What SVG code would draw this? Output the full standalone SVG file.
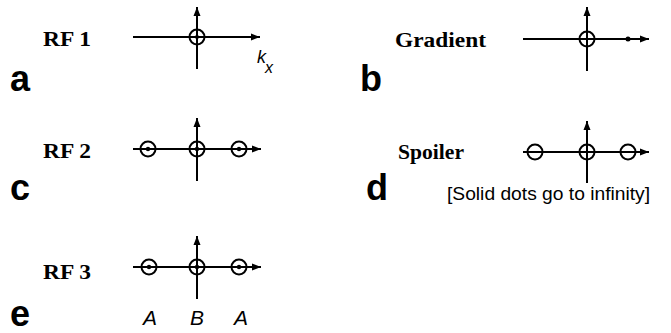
<svg xmlns="http://www.w3.org/2000/svg" width="671" height="333" viewBox="0 0 671 333">
<defs>
<marker id="ah" markerUnits="userSpaceOnUse" markerWidth="10" markerHeight="8" refX="9" refY="4" orient="auto">
<path d="M0,0.5 L9,4 L0,7.5 Z" fill="#000"/>
</marker>
<style>
.ax{stroke:#000;stroke-width:2;fill:none}
.ring{stroke:#000;stroke-width:2;fill:none}
.dot{fill:#000}
.lbl{font-family:"Liberation Serif","Times New Roman",serif;font-weight:bold;font-size:22px;fill:#000}
.pl{font-family:"Liberation Sans",Arial,sans-serif;font-weight:bold;font-size:36px;fill:#000}
.it{font-family:"Liberation Sans",Arial,sans-serif;font-style:italic;fill:#000}
.note{font-family:"Liberation Sans",Arial,sans-serif;font-size:18.5px;fill:#000}
</style>
</defs>
<rect width="671" height="333" fill="#fff"/>

<g id="connectors">
<line class="ax" x1="133" y1="37" x2="260" y2="37" marker-end="url(#ah)"/>
<line class="ax" x1="197" y1="69" x2="197" y2="7" marker-end="url(#ah)"/>
<line class="ax" x1="523" y1="39" x2="649" y2="39" marker-end="url(#ah)"/>
<line class="ax" x1="587" y1="71" x2="587" y2="7" marker-end="url(#ah)"/>
<line class="ax" x1="133" y1="149" x2="261" y2="149" marker-end="url(#ah)"/>
<line class="ax" x1="197" y1="181" x2="197" y2="118" marker-end="url(#ah)"/>
<line class="ax" x1="523" y1="152" x2="649" y2="152" marker-end="url(#ah)"/>
<line class="ax" x1="587" y1="183" x2="587" y2="121" marker-end="url(#ah)"/>
<line class="ax" x1="133" y1="267" x2="261" y2="267" marker-end="url(#ah)"/>
<line class="ax" x1="197" y1="299" x2="197" y2="236" marker-end="url(#ah)"/>
</g>

<g id="panel-a">
<text class="lbl" x="43" y="46" textLength="48" lengthAdjust="spacingAndGlyphs">RF 1</text>
<circle class="ring" cx="197" cy="37" r="7.5"/>
<circle class="dot" cx="197" cy="37" r="2"/>
<text class="it" x="257" y="63" font-size="18">k</text>
<text class="it" x="265" y="73" font-size="16">x</text>
<text class="pl" x="10" y="91">a</text>
</g>

<g id="panel-b">
<text class="lbl" x="395" y="47" textLength="91" lengthAdjust="spacingAndGlyphs">Gradient</text>
<circle class="ring" cx="587" cy="39" r="7.5"/>
<circle class="dot" cx="628" cy="39" r="2.5"/>
<text class="pl" x="360" y="91">b</text>
</g>

<g id="panel-c">
<text class="lbl" x="43" y="158" textLength="48" lengthAdjust="spacingAndGlyphs">RF 2</text>
<circle class="ring" cx="148" cy="149" r="7.5"/>
<circle class="dot" cx="148" cy="149" r="2.2"/>
<circle class="ring" cx="197" cy="149" r="7.5"/>
<circle class="dot" cx="197" cy="149" r="2.2"/>
<circle class="ring" cx="239" cy="149" r="7.5"/>
<circle class="dot" cx="239" cy="149" r="2.2"/>
<text class="pl" x="10" y="200">c</text>
</g>

<g id="panel-d">
<text class="lbl" x="398" y="159" textLength="66" lengthAdjust="spacingAndGlyphs">Spoiler</text>
<circle class="ring" cx="535" cy="152" r="7.5"/>
<circle class="ring" cx="587" cy="152" r="7.5"/>
<circle class="ring" cx="628" cy="152" r="7.5"/>
<text class="note" x="447" y="200" textLength="203" lengthAdjust="spacingAndGlyphs">[Solid dots go to infinity]</text>
<text class="pl" x="366" y="200">d</text>
</g>

<g id="panel-e">
<text class="lbl" x="43" y="279" textLength="48" lengthAdjust="spacingAndGlyphs">RF 3</text>
<circle class="ring" cx="149" cy="267" r="7.5"/>
<circle class="dot" cx="149" cy="267" r="2.2"/>
<circle class="ring" cx="197" cy="267" r="7.5"/>
<circle class="dot" cx="197" cy="267" r="2.2"/>
<circle class="ring" cx="239" cy="267" r="7.5"/>
<circle class="dot" cx="239" cy="267" r="2.2"/>
<text class="it" x="150" y="325" font-size="21" text-anchor="middle">A</text>
<text class="it" x="197" y="325" font-size="21" text-anchor="middle">B</text>
<text class="it" x="241" y="325" font-size="21" text-anchor="middle">A</text>
<text class="pl" x="10" y="326">e</text>
</g>
</svg>
